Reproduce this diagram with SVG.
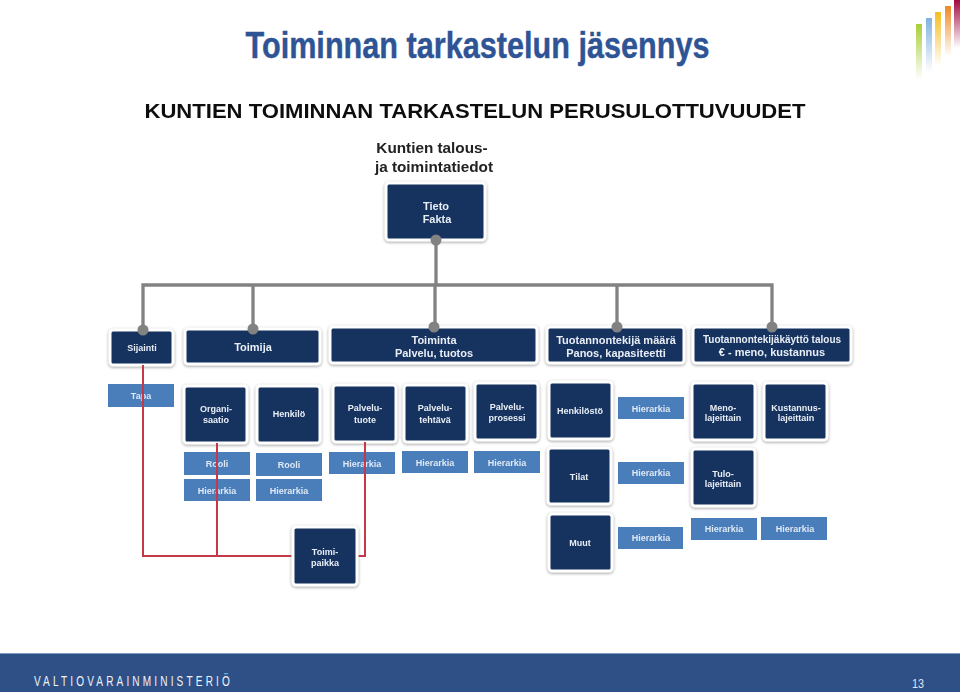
<svg xmlns="http://www.w3.org/2000/svg" width="960" height="692" viewBox="0 0 960 692">
<style>
text{font-family:"Liberation Sans",Arial,sans-serif;font-weight:700;text-anchor:middle}
.n{fill:#14335f;stroke:#fff;stroke-width:3}
.b{fill:#4a7ebb}
.nt{fill:#e8eef6;font-size:9px}
.lt{fill:#e8eef6;font-size:11px}
.bt{fill:#dfe8f4;font-size:9px}
.g{fill:none;stroke:#828282;stroke-width:3.300}
.r{fill:none;stroke:#c4384a;stroke-width:2}
.d{fill:#828282}
</style>
<defs>
<filter id="sh" x="-20%" y="-20%" width="140%" height="140%"><feDropShadow dx="0" dy="1" stdDeviation="1.5" flood-color="#777" flood-opacity="0.7"/></filter>
<filter id="soft" filterUnits="userSpaceOnUse" x="0" y="90" width="960" height="520"><feGaussianBlur stdDeviation="0.35"/></filter>
<linearGradient id="l1" x1="0" y1="0" x2="0" y2="1"><stop offset="0" stop-color="#a9cf38"/><stop offset="1" stop-color="#a9cf38" stop-opacity="0"/></linearGradient>
<linearGradient id="l2" x1="0" y1="0" x2="0" y2="1"><stop offset="0" stop-color="#7fb2e0"/><stop offset="1" stop-color="#7fb2e0" stop-opacity="0"/></linearGradient>
<linearGradient id="l3" x1="0" y1="0" x2="0" y2="1"><stop offset="0" stop-color="#f5bd1f"/><stop offset="1" stop-color="#f5bd1f" stop-opacity="0"/></linearGradient>
<linearGradient id="l4" x1="0" y1="0" x2="0" y2="1"><stop offset="0" stop-color="#ee8a22"/><stop offset="1" stop-color="#ee8a22" stop-opacity="0"/></linearGradient>
<linearGradient id="l5" x1="0" y1="0" x2="0" y2="1"><stop offset="0" stop-color="#a3093f"/><stop offset="1" stop-color="#a3093f" stop-opacity="0"/></linearGradient>
</defs>
<rect width="960" height="692" fill="#fff"/>
<g id="logo">
<rect x="916" y="24" width="6" height="56" fill="url(#l1)"/>
<rect x="926" y="18" width="6" height="54" fill="url(#l2)"/>
<rect x="935" y="12" width="6" height="54" fill="url(#l3)"/>
<rect x="945" y="6" width="6" height="50" fill="url(#l4)"/>
<rect x="954" y="0" width="6" height="48" fill="url(#l5)"/>
</g>
<text id="title" x="477.500" y="58" font-size="36" fill="#2f5496" stroke="#2f5496" stroke-width=".4" textLength="464" lengthAdjust="spacingAndGlyphs">Toiminnan tarkastelun jäsennys</text>
<g id="footer">
<rect y="654" width="960" height="38" fill="#2f5086"/>
<rect y="653" width="960" height="1" fill="#7f9cc2"/>
<text transform="translate(34 686) scale(.72 1)" x="0" y="0" font-size="14" fill="#eef2f8" style="font-weight:400;text-anchor:start" textLength="272" lengthAdjust="spacing">VALTIOVARAINMINISTERIÖ</text>
<text x="918" y="688" font-size="13.500" fill="#dfe6f0" style="font-weight:400" textLength="12" lengthAdjust="spacingAndGlyphs">13</text>
</g>
<g filter="url(#soft)">
<text id="heading" x="475" y="118" font-size="21" fill="#111" textLength="661" lengthAdjust="spacingAndGlyphs">KUNTIEN TOIMINNAN TARKASTELUN PERUSULOTTUVUUDET</text>
<text id="root-caption" fill="#222" font-size="15.300"><tspan x="432" y="153">Kuntien talous-</tspan><tspan x="434" y="172">ja toimintatiedot</tspan></text>
<g id="tieto"><rect class="n" filter="url(#sh)" x="386" y="183" width="99" height="57" rx="3"/><text class="nt" style="font-size:11px"><tspan x="436" y="210">Tieto</tspan><tspan x="437" y="223">Fakta</tspan></text></g>
<g id="sijainti"><rect class="n" filter="url(#sh)" x="110" y="330" width="63" height="35" rx="3"/><text class="nt" x="142" y="351">Sijainti</text></g>
<g id="toimija"><rect class="n" filter="url(#sh)" x="185" y="329" width="135" height="35" rx="3"/><text class="lt" x="253" y="351">Toimija</text></g>
<g id="toiminta"><rect class="n" filter="url(#sh)" x="330" y="327" width="207" height="36" rx="3"/><text class="lt"><tspan x="434" y="344">Toiminta</tspan><tspan x="434" y="357">Palvelu, tuotos</tspan></text></g>
<g id="maara"><rect class="n" filter="url(#sh)" x="547" y="327" width="137" height="36" rx="3"/><text class="lt"><tspan x="616" y="344">Tuotannontekijä määrä</tspan><tspan x="616" y="357">Panos, kapasiteetti</tspan></text></g>
<g id="kaytto"><rect class="n" filter="url(#sh)" x="693" y="327" width="158" height="36" rx="3"/><text class="lt" style="font-size:10px" x="772" y="343">Tuotannontekijäkäyttö talous</text><text class="lt" x="772" y="356">€ - meno, kustannus</text></g>
<g id="tapa"><rect class="b" x="108" y="384" width="66" height="23"/><text class="bt" x="141" y="399">Tapa</text></g>
<g id="organisaatio"><rect class="n" filter="url(#sh)" x="184" y="386" width="63" height="57" rx="3"/><text class="nt"><tspan x="216" y="412">Organi-</tspan><tspan x="216" y="423">saatio</tspan></text></g>
<g id="henkilo"><rect class="n" filter="url(#sh)" x="257" y="386" width="63" height="57" rx="3"/><text class="nt" x="289" y="417">Henkilö</text></g>
<g id="palvelutuote"><rect class="n" filter="url(#sh)" x="333" y="385" width="63" height="57" rx="3"/><text class="nt"><tspan x="365" y="411">Palvelu-</tspan><tspan x="365" y="423">tuote</tspan></text></g>
<g id="palvelutehtava"><rect class="n" filter="url(#sh)" x="404" y="385" width="63" height="57" rx="3"/><text class="nt"><tspan x="435" y="411">Palvelu-</tspan><tspan x="435" y="423">tehtävä</tspan></text></g>
<g id="palveluprosessi"><rect class="n" filter="url(#sh)" x="475" y="383" width="63" height="57" rx="3"/><text class="nt"><tspan x="507" y="410">Palvelu-</tspan><tspan x="507" y="421">prosessi</tspan></text></g>
<g id="henkilosto"><rect class="n" filter="url(#sh)" x="549" y="382" width="63" height="57" rx="3"/><text class="nt" x="580" y="414">Henkilöstö</text></g>
<g id="tilat"><rect class="n" filter="url(#sh)" x="548" y="448" width="63" height="56" rx="3"/><text class="nt" x="579" y="480">Tilat</text></g>
<g id="muut"><rect class="n" filter="url(#sh)" x="549" y="514" width="63" height="57" rx="3"/><text class="nt" x="580" y="546">Muut</text></g>
<g id="meno"><rect class="n" filter="url(#sh)" x="692" y="383" width="63" height="57" rx="3"/><text class="nt"><tspan x="723" y="411">Meno-</tspan><tspan x="723" y="421">lajeittain</tspan></text></g>
<g id="kustannus"><rect class="n" filter="url(#sh)" x="764" y="383" width="63" height="57" rx="3"/><text class="nt"><tspan x="796" y="411">Kustannus-</tspan><tspan x="796" y="421">lajeittain</tspan></text></g>
<g id="tulo"><rect class="n" filter="url(#sh)" x="692" y="449" width="63" height="57" rx="3"/><text class="nt"><tspan x="723" y="477">Tulo-</tspan><tspan x="723" y="487">lajeittain</tspan></text></g>
<g id="rooli1"><rect class="b" x="184" y="452" width="66" height="23"/><text class="bt" x="217" y="467">Rooli</text></g>
<g id="hier1"><rect class="b" x="184" y="479" width="66" height="22"/><text class="bt" x="217" y="494">Hierarkia</text></g>
<g id="rooli2"><rect class="b" x="256" y="453" width="66" height="23"/><text class="bt" x="289" y="468">Rooli</text></g>
<g id="hier2"><rect class="b" x="256" y="479" width="66" height="22"/><text class="bt" x="289" y="494">Hierarkia</text></g>
<g id="hier3"><rect class="b" x="329" y="452" width="66" height="22"/><text class="bt" x="362" y="467">Hierarkia</text></g>
<g id="hier4"><rect class="b" x="402" y="451" width="66" height="22"/><text class="bt" x="435" y="466">Hierarkia</text></g>
<g id="hier5"><rect class="b" x="474" y="451" width="66" height="22"/><text class="bt" x="507" y="466">Hierarkia</text></g>
<g id="hier6"><rect class="b" x="618" y="397" width="66" height="22"/><text class="bt" x="651" y="412">Hierarkia</text></g>
<g id="hier7"><rect class="b" x="618" y="462" width="66" height="22"/><text class="bt" x="651" y="476">Hierarkia</text></g>
<g id="hier8"><rect class="b" x="618" y="527" width="65" height="22"/><text class="bt" x="651" y="541">Hierarkia</text></g>
<g id="hier9"><rect class="b" x="691" y="518" width="66" height="22"/><text class="bt" x="724" y="532">Hierarkia</text></g>
<g id="hier10"><rect class="b" x="761" y="517" width="66" height="23"/><text class="bt" x="795" y="532">Hierarkia</text></g>
<g id="connectors">
<path class="g" d="M436 241V285M143 329V285H772V327M253 285V329M435 285V328M617 285V327"/>
<circle class="d" cx="436" cy="240" r="5.500"/><circle class="d" cx="143" cy="330" r="5.500"/><circle class="d" cx="253" cy="329" r="5.500"/><circle class="d" cx="434" cy="327" r="5.500"/><circle class="d" cx="617" cy="327" r="5.500"/><circle class="d" cx="772" cy="327" r="5.500"/>
<path class="r" d="M143 365V556H294M217 443V556M365 442V556H356"/>
</g>
<g id="toimipaikka"><rect class="n" filter="url(#sh)" x="293" y="527" width="64" height="58" rx="3"/><text class="nt"><tspan x="325" y="555">Toimi-</tspan><tspan x="325" y="566">paikka</tspan></text></g>
</g>
</svg>
